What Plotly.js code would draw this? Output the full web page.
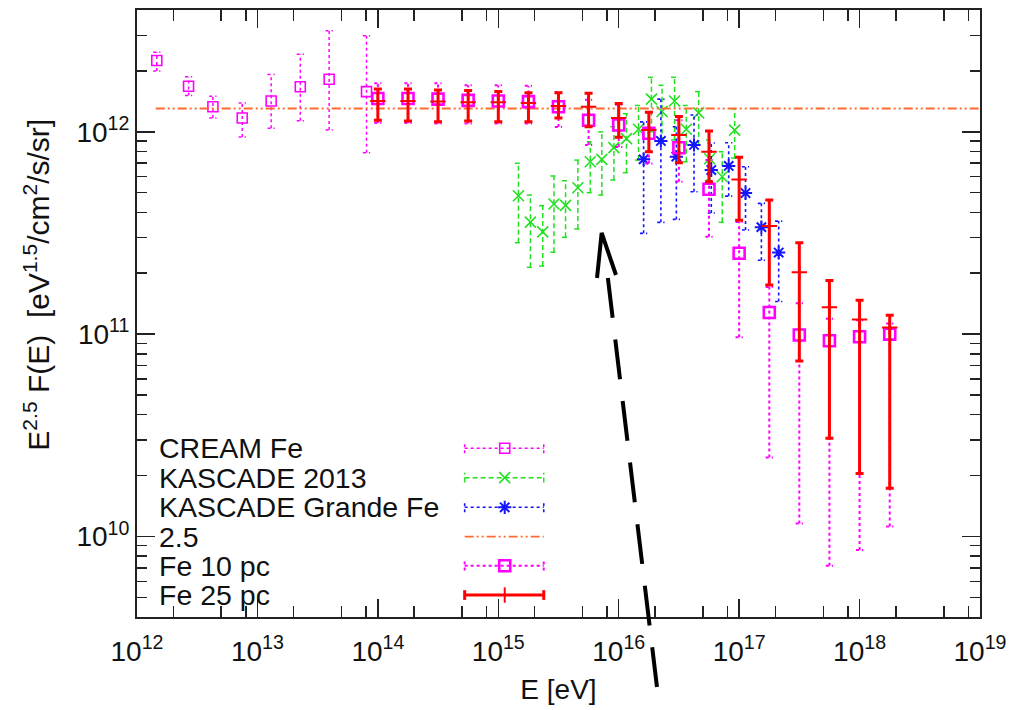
<!DOCTYPE html>
<html>
<head>
<meta charset="utf-8">
<script src="https://cdn.plot.ly/plotly-3.0.1.min.js"></script>
<style>html,body{margin:0;padding:0;background:#fff;}#chart{width:1027px;height:710px;}</style>
</head>
<body>
<div id="chart"></div>
<script>
// ---------------- data ----------------
// CREAM Fe
const creamE  = [1.46e12, 2.68e12, 4.27e12, 7.48e12, 1.30e13, 2.27e13, 3.94e13, 8.05e13];
const creamF  = [2.25e12, 1.68e12, 1.33e12, 1.17e12, 1.42e12, 1.67e12, 1.82e12, 1.58e12];
const creamHi = [2.47e12, 1.87e12, 1.50e12, 1.39e12, 1.92e12, 2.42e12, 3.16e12, 2.98e12];
const creamLo = [2.00e12, 1.51e12, 1.17e12, 9.42e11, 1.04e12, 1.135e12, 1.02e12, 7.88e11];

// KASCADE 2013
const kasE  = [1.47e15, 1.85e15, 2.34e15, 2.90e15, 3.62e15, 4.58e15, 5.81e15, 7.24e15, 9.12e15, 1.16e16,
               1.46e16, 1.87e16, 2.29e16, 2.91e16, 3.64e16, 4.61e16, 5.69e16, 7.24e16, 9.18e16];
const kasF  = [4.83e11, 3.58e11, 3.20e11, 4.40e11, 4.33e11, 5.29e11, 7.11e11, 7.31e11, 8.36e11, 9.25e11,
               1.03e12, 1.45e12, 1.26e12, 1.42e12, 1.03e12, 1.24e12, 7.36e11, 6.00e11, 1.02e12];
const kasHi = [6.99e11, 4.87e11, 4.31e11, 6.05e11, 5.73e11, 7.25e11, 8.93e11, 1.00e12, 1.06e12, 1.23e12,
               1.35e12, 1.86e12, 1.70e12, 1.86e12, 1.35e12, 1.58e12, 9.11e11, 7.97e11, 1.30e12];
const kasLo = [2.83e11, 2.14e11, 2.17e11, 2.54e11, 3.01e11, 3.31e11, 5.00e11, 4.87e11, 5.78e11, 6.28e11,
               7.25e11, 1.00e12, 8.93e11, 9.11e11, 7.11e11, 8.61e11, 5.78e11, 3.57e11, 7.42e11];

// KASCADE Grande Fe
const grE  = [1.61e16, 2.24e16, 3.01e16, 4.22e16, 5.87e16, 8.19e16, 1.13e17, 1.53e17, 2.13e17];
const grF  = [7.31e11, 9.01e11, 7.54e11, 8.61e11, 6.47e11, 6.78e11, 4.98e11, 3.38e11, 2.53e11];
const grHi = [1.12e12, 1.45e12, 1.06e12, 1.21e12, 8.80e11, 8.83e11, 6.72e11, 4.43e11, 3.62e11];
const grLo = [3.15e11, 3.57e11, 3.69e11, 5.06e11, 3.97e11, 4.81e11, 3.27e11, 2.32e11, 1.45e11];

// E^-2.5 reference line
const refE = [1.43e12, 1e19];
const refF = [1.304e12, 1.304e12];

// Model energies (Fe 10 pc and Fe 25 pc)
const feE = [1e14, 1.78e14, 3.16e14, 5.62e14, 1e15, 1.78e15, 3.16e15, 5.62e15, 1e16,
             1.78e16, 3.16e16, 5.62e16, 1e17, 1.78e17, 3.16e17, 5.62e17, 1e18, 1.78e18];
// Fe 10 pc
const fe10F  = [1.46e12, 1.46e12, 1.45e12, 1.43e12, 1.42e12, 1.41e12, 1.33e12, 1.14e12, 1.08e12,
                9.84e11, 8.34e11, 5.20e11, 2.51e11, 1.28e11, 9.9e10, 9.28e10, 9.71e10, 1.00e11];
const fe10Hi = [1.74e12, 1.74e12, 1.74e12, 1.70e12, 1.70e12, 1.69e12, 1.57e12, 1.44e12, 1.36e12,
                1.25e12, 1.14e12, 7.26e11, 3.58e11, 1.71e11, 1.42e11, 1.19e11, 1.17e11, 1.13e11];
const fe10Lo = [1.105e12, 1.105e12, 1.10e12, 1.10e12, 1.10e12, 1.10e12, 1.056e12, 8.6e11, 8.41e11,
                6.98e11, 5.66e11, 3.03e11, 9.64e10, 2.46e10, 1.16e10, 7.16e9, 8.57e9, 1.12e10];
// Fe 25 pc
const fe25F  = [1.42e12, 1.42e12, 1.41e12, 1.40e12, 1.40e12, 1.39e12, 1.34e12, 1.33e12, 1.17e12,
                1.02e12, 9.64e11, 7.97e11, 5.82e11, 3.42e11, 2.02e11, 1.36e11, 1.18e11, 1.08e11];
const fe25Hi = [1.63e12, 1.63e12, 1.61e12, 1.60e12, 1.58e12, 1.56e12, 1.56e12, 1.55e12, 1.38e12,
                1.25e12, 1.19e12, 1.01e12, 7.48e11, 4.60e11, 2.83e11, 1.84e11, 1.47e11, 1.24e11];
const fe25Lo = [1.14e12, 1.13e12, 1.12e12, 1.13e12, 1.12e12, 1.12e12, 1.17e12, 1.06e12, 9.39e11,
                7.97e11, 7.03e11, 5.66e11, 3.66e11, 1.75e11, 7.36e10, 3.06e10, 2.05e10, 1.73e10];

// axis ticks
const xTickVals = [1e12, 1e13, 1e14, 1e15, 1e16, 1e17, 1e18, 1e19];
const xTickText = ['10<sup>12</sup>','10<sup>13</sup>','10<sup>14</sup>','10<sup>15</sup>','10<sup>16</sup>','10<sup>17</sup>','10<sup>18</sup>','10<sup>19</sup>'];
const yTickVals = [1e10, 1e11, 1e12];
const yTickText = ['10<sup>10</sup>','10<sup>11</sup>','10<sup>12</sup>'];
const xMinorMult = [2, 5, 8];
const yMinorMult = [2, 3, 4, 5, 6, 7, 8, 9];

// legend entries
const legendNames = ['CREAM Fe', 'KASCADE 2013', 'KASCADE Grande Fe', '2.5', 'Fe 10 pc', 'Fe 25 pc'];

// ---------------- styles ----------------
const C_MAG = '#ff00ff', C_GRN = '#22e022', C_BLU = '#1515ff', C_ORG = '#ff6a30', C_RED = '#ff0000';
const FONT = 'Liberation Sans, Arial, Helvetica, sans-serif';

function minorVals(mults, d0, d1) {
  const v = [];
  for (let d = d0; d <= d1; d++) mults.forEach(m => v.push(m * Math.pow(10, d)));
  return v;
}

// build error-bar segments (vertical + caps) from data arrays
function barSegs(E, lo, hi, capDec) {
  const x = [], y = [];
  const f = Math.pow(10, capDec);
  for (let i = 0; i < E.length; i++) {
    x.push(E[i], E[i], null); y.push(lo[i], hi[i], null);
    x.push(E[i] / f, E[i] * f, null); y.push(hi[i], hi[i], null);
    x.push(E[i] / f, E[i] * f, null); y.push(lo[i], lo[i], null);
  }
  return {x, y};
}

const traces = [];
function addBars(E, lo, hi, color, dash, width, cap) {
  const s = barSegs(E, lo, hi, cap);
  traces.push({x: s.x, y: s.y, type: 'scatter', mode: 'lines', showlegend: false, hoverinfo: 'skip',
    line: {color: color, dash: dash, width: width}});
}

// CREAM
addBars(creamE, creamLo, creamHi, C_MAG, 'dot', 1.5, 0.03);
traces.push({x: creamE, y: creamF, type: 'scatter', mode: 'markers', showlegend: false,
  marker: {symbol: 'square-open', size: 10, color: C_MAG, line: {width: 1.6, color: C_MAG}}});
// KASCADE 2013
addBars(kasE, kasLo, kasHi, C_GRN, '5px,3px', 1.5, 0.03);
traces.push({x: kasE, y: kasF, type: 'scatter', mode: 'markers', showlegend: false,
  marker: {symbol: 'x-thin-open', size: 11, color: C_GRN, line: {width: 1.6, color: C_GRN}}});
// KASCADE Grande
addBars(grE, grLo, grHi, C_BLU, 'dot', 1.6, 0.03);
traces.push({x: grE, y: grF, type: 'scatter', mode: 'markers', showlegend: false,
  marker: {symbol: 'asterisk-open', size: 11, color: C_BLU, line: {width: 2, color: C_BLU}}});
// reference line
traces.push({x: refE, y: refF, type: 'scatter', mode: 'lines', showlegend: false,
  line: {color: C_ORG, width: 1.8, dash: '9px,3px,2px,3px,2px,3px'}});
// Fe 10 pc
addBars(feE, fe10Lo, fe10Hi, C_MAG, 'dot', 2, 0.03);
traces.push({x: feE, y: fe10F, type: 'scatter', mode: 'markers', showlegend: false,
  marker: {symbol: 'square-open', size: 11, color: C_MAG, line: {width: 2.6, color: C_MAG}}});
// Fe 25 pc
traces.push({x: feE, y: fe25F, type: 'scatter', mode: 'markers', showlegend: false,
  marker: {symbol: 'cross-thin-open', size: 11, color: C_RED, line: {width: 2, color: C_RED}},
  error_y: {type: 'data', symmetric: false,
    array: fe25F.map((v, i) => fe25Hi[i] - v),
    arrayminus: fe25F.map((v, i) => v - fe25Lo[i]),
    color: C_RED, thickness: 3, width: 4}});

// ---------------- legend (drawn on an overlay axis) ----------------
const legRowY = [0.2779, 0.2295, 0.1807, 0.1323, 0.0845, 0.0362];
const legX0 = 0.3887, legX1 = 0.4825, legXc = 0.4362, legCap = 0.008;
const legStyles = [
  {color: C_MAG, dash: 'dot', width: 1.5, sym: 'square-open', size: 10, lw: 1.6, caps: true},
  {color: C_GRN, dash: '5px,3px', width: 1.5, sym: 'x-thin-open', size: 11, lw: 1.6, caps: true},
  {color: C_BLU, dash: 'dot', width: 1.6, sym: 'asterisk-open', size: 11, lw: 2, caps: true},
  {color: C_ORG, dash: '9px,3px,2px,3px,2px,3px', width: 1.8, sym: null, caps: false},
  {color: C_MAG, dash: 'dot', width: 2, sym: 'square-open', size: 11, lw: 2.6, caps: true},
  {color: C_RED, dash: 'solid', width: 3, sym: 'line-ns-open', size: 11, lw: 2, caps: true}
];
const annotations = [];
legendNames.forEach((name, i) => {
  const st = legStyles[i], yy = legRowY[i];
  const lx = [legX0, legX1], ly = [yy, yy];
  if (st.caps) { lx.push(null, legX0, legX0, null, legX1, legX1); ly.push(null, yy - legCap, yy + legCap, null, yy - legCap, yy + legCap); }
  traces.push({x: lx, y: ly, xaxis: 'x2', yaxis: 'y2', type: 'scatter', mode: 'lines', showlegend: false, hoverinfo: 'skip',
    line: {color: st.color, dash: st.dash, width: st.width}});
  if (st.sym) traces.push({x: [legXc], y: [yy], xaxis: 'x2', yaxis: 'y2', type: 'scatter', mode: 'markers', showlegend: false, hoverinfo: 'skip',
    marker: {symbol: st.sym, size: st.size, color: st.color, line: {width: st.lw, color: st.color}}});
  annotations.push({text: name, xref: 'paper', yref: 'paper', x: 0.0243, y: yy, xanchor: 'left', yanchor: 'middle',
    showarrow: false, font: {family: FONT, size: 28.5, color: '#111'}});
});

// y axis title
annotations.push({text: 'E<sup>2.5</sup> F(E)  [eV<sup>1.5</sup>/cm<sup>2</sup>/s/sr]', xref: 'paper', yref: 'paper',
  x: -0.119, y: 0.547, xanchor: 'center', yanchor: 'middle', textangle: -90, showarrow: false,
  font: {family: FONT, size: 30, color: '#111'}});

const axisCommon = {
  type: 'log', showgrid: false, zeroline: false, showline: true, linecolor: '#222', linewidth: 2,
  mirror: 'allticks', ticks: 'inside', ticklen: 18, tickwidth: 1.5, tickcolor: '#222',
  tickmode: 'array', tickfont: {family: FONT, size: 28, color: '#111'}
};

const layout = {
  width: 1027, height: 710,
  margin: {l: 137, r: 47, t: 10, b: 93},
  paper_bgcolor: '#fff', plot_bgcolor: '#fff',
  showlegend: false,
  xaxis: Object.assign({}, axisCommon, {
    range: [12, 19], tickvals: xTickVals, ticktext: xTickText, ticklabelstandoff: 8,
    minor: {tickmode: 'array', tickvals: minorVals(xMinorMult, 12, 18), ticks: 'inside', ticklen: 11, tickwidth: 1.5, tickcolor: '#222', showgrid: false},
    title: {text: 'E [eV]', font: {family: FONT, size: 28, color: '#111'}, standoff: 14}
  }),
  yaxis: Object.assign({}, axisCommon, {
    range: [Math.log10(4e9), Math.log10(4e12)], tickvals: yTickVals, ticktext: yTickText,
    minor: {tickmode: 'array', tickvals: minorVals(yMinorMult, 9, 12), ticks: 'inside', ticklen: 10, tickwidth: 1.5, tickcolor: '#222', showgrid: false}
  }),
  xaxis2: {overlaying: 'x', range: [0, 1], visible: false, fixedrange: true},
  yaxis2: {overlaying: 'y', range: [0, 1], visible: false, fixedrange: true},
  annotations: annotations,
  shapes: [
    {type: 'line', xref: 'paper', yref: 'paper', x0: 0.6168, y0: -0.1153, x1: 0.5563, y1: 0.5848,
     line: {color: '#000', width: 4, dash: '40px,22px'}, layer: 'above'},
    {type: 'path', xref: 'paper', yref: 'paper', path: 'M 0.5457 0.5585 L 0.5512 0.6326 L 0.5682 0.5634',
     line: {color: '#000', width: 4}, layer: 'above'}
  ]
};

Plotly.newPlot('chart', traces, layout, {displayModeBar: false, staticPlot: true});
</script>
</body>
</html>
